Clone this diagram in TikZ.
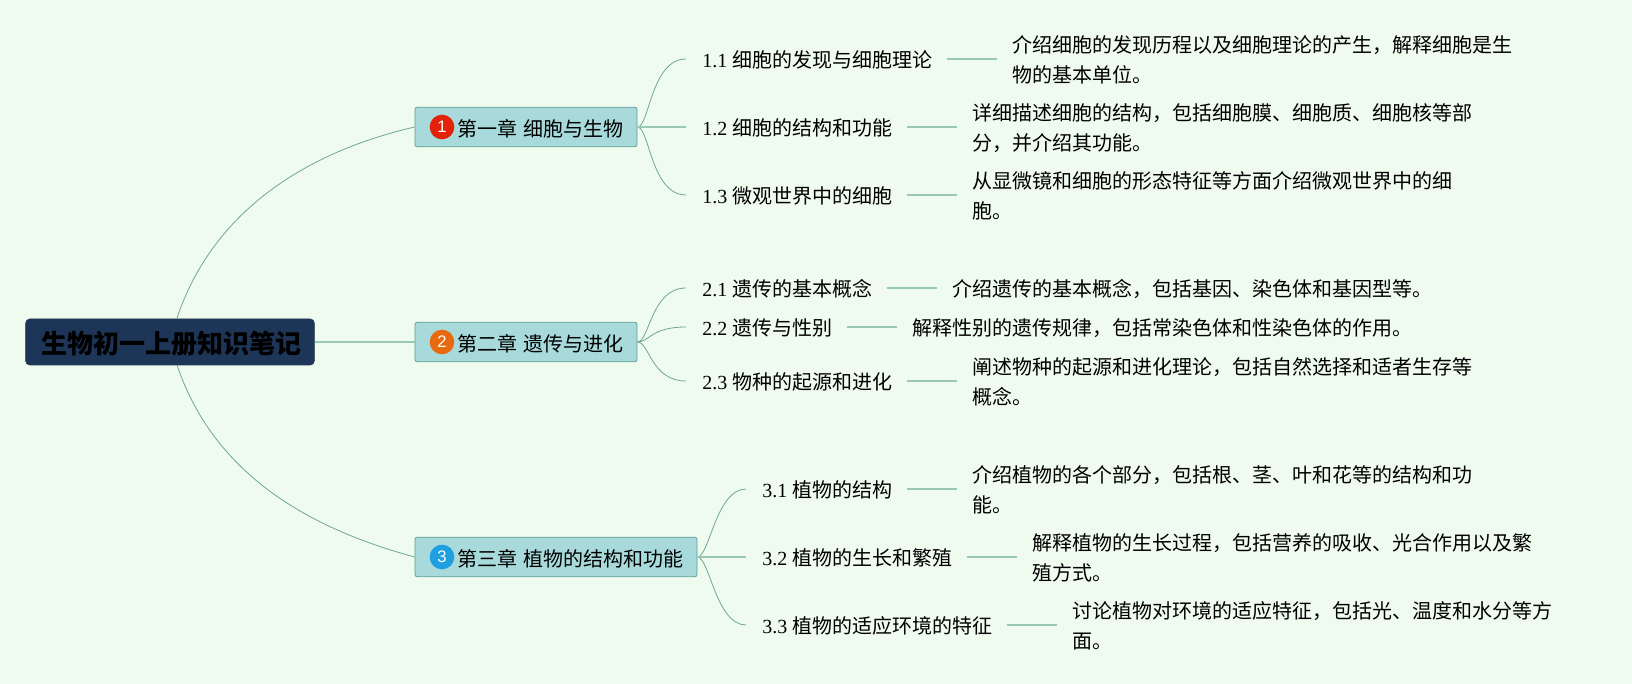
\documentclass[tikz,border=0pt]{standalone}
\usepackage{fontspec}
\usetikzlibrary{calc}
\setmainfont{Noto Sans CJK SC}
\newfontfamily\latinserif{Liberation Serif}
\newfontfamily\latinsans{Liberation Sans}
\definecolor{bgc}{HTML}{F0FBF0}
\definecolor{boxfill}{HTML}{A8DADC}
\definecolor{boxline}{HTML}{5B9E94}
\definecolor{rootfill}{HTML}{1D3557}
\definecolor{curvec}{HTML}{6FA596}
\definecolor{linec}{HTML}{99C9B5}
\definecolor{badgea}{HTML}{E2220A}
\definecolor{badgeb}{HTML}{E86A10}
\definecolor{badgec}{HTML}{1E9FE0}
\newcommand{\num}[1]{{\latinserif #1}\hspace{4.25pt}}
\tikzset{
  x=0.75pt,y=-0.75pt,
  rootbox/.style={draw=rootfill,fill=rootfill,rounded corners=3pt,minimum width=216.5pt,minimum height=34.5pt,inner sep=0pt,font=\fontsize{19.5}{24}\selectfont\bfseries,text=black},
  roottext/.style={inner sep=0pt,font=\fontsize{19.5}{24}\selectfont\bfseries,text=black},
  chapbox/.style={draw=boxline,fill=boxfill,rounded corners=1.5pt,line width=0.6pt,minimum height=29.5pt,inner sep=0pt},
  chaptext/.style={anchor=west,inner sep=0pt,font=\fontsize{15}{20}\selectfont,text=black},
  badge/.style={circle,minimum size=18.5pt,inner sep=0pt,text=white,font=\fontsize{12.5}{13}\selectfont\latinsans},
  subitem/.style={anchor=west,inner ysep=0pt,inner xsep=12pt,font=\fontsize{15}{20}\selectfont,text=black},
  descitem/.style={anchor=west,align=left,inner ysep=0pt,inner xsep=11.25pt,font=\fontsize{15}{22.5}\selectfont,text=black},
  curveline/.style={draw=curvec,line width=0.6pt},
  straightline/.style={draw=linec,line width=1pt},
}
\begin{document}
\begin{tikzpicture}
\useasboundingbox (0,0) rectangle (1632,684);
\fill[bgc] (0,0) rectangle (1632,684);

% root and chapters
\node[rootbox] (root) at (170,342) {};
\node[roottext] (roott) at (171.5,344) {生物初一上册知识笔记};
\node[chapbox,minimum width=166.5pt] (c1) at (526,127) {};
\node[chapbox,minimum width=166.5pt] (c2) at (526,342) {};
\node[chapbox,minimum width=211.5pt] (c3) at (556,557) {};
\node[badge,fill=badgea] (b1) at (442,127) {1};
\node[badge,fill=badgeb] (b2) at (442,342) {2};
\node[badge,fill=badgec] (b3) at (442,557) {3};
\node[chaptext] (t1) at (457,128.5) {第一章\hspace{4.5pt}细胞与生物};
\node[chaptext] (t2) at (457,343.5) {第二章\hspace{4.5pt}遗传与进化};
\node[chaptext] (t3) at (457,558.5) {第三章\hspace{4.5pt}植物的结构和功能};

% named anchors on the root outline
\coordinate (rt) at (177,318);
\coordinate (rb) at (177,365);

% subtopics
\node[subitem] (s11) at (686,60) {\num{1.1}细胞的发现与细胞理论};
\node[subitem] (s12) at (686,128) {\num{1.2}细胞的结构和功能};
\node[subitem] (s13) at (686,196) {\num{1.3}微观世界中的细胞};
\node[subitem] (s21) at (686,289) {\num{2.1}遗传的基本概念};
\node[subitem] (s22) at (686,328) {\num{2.2}遗传与性别};
\node[subitem] (s23) at (686,382) {\num{2.3}物种的起源和进化};
\node[subitem] (s31) at (746,490) {\num{3.1}植物的结构};
\node[subitem] (s32) at (746,558) {\num{3.2}植物的生长和繁殖};
\node[subitem] (s33) at (746,626) {\num{3.3}植物的适应环境的特征};

% descriptions
\node[descitem] (d11) at (997,60) {介绍细胞的发现历程以及细胞理论的产生，解释细胞是生\\物的基本单位。};
\node[descitem] (d12) at (957,128) {详细描述细胞的结构，包括细胞膜、细胞质、细胞核等部\\分，并介绍其功能。};
\node[descitem] (d13) at (957,196) {从显微镜和细胞的形态特征等方面介绍微观世界中的细\\胞。};
\node[descitem] (d21) at (937,289) {介绍遗传的基本概念，包括基因、染色体和基因型等。};
\node[descitem] (d22) at (897,328) {解释性别的遗传规律，包括常染色体和性染色体的作用。};
\node[descitem] (d23) at (957,382) {阐述物种的起源和进化理论，包括自然选择和适者生存等\\概念。};
\node[descitem] (d31) at (957,490) {介绍植物的各个部分，包括根、茎、叶和花等的结构和功\\能。};
\node[descitem] (d32) at (1017,558) {解释植物的生长过程，包括营养的吸收、光合作用以及繁\\殖方式。};
\node[descitem] (d33) at (1057,626) {讨论植物对环境的适应特征，包括光、温度和水分等方\\面。};

% root connectors
\draw[straightline] (root.east) -- (c2.west);
\draw[curveline] (rt) .. controls (215,205) and (315,150) .. (c1.west);
\draw[curveline] (rb) .. controls (215,478) and (315,530) .. (c3.west);

% chapter to subtopic
\foreach \c/\s in {c1/s11,c1/s13,c2/s21,c2/s22,c2/s23}{
  \draw[curveline] (\c.east) .. controls ($(\c.east)+(12,0)$) and ($(\s.west)+(-35,-1)$) .. ($(\s.west)+(0,-1)$);
}
\foreach \s in {s31,s33}{
  \draw[curveline] (c3.east) .. controls ($(c3.east)+(12,0)$) and ($(\s.west)+(-30,-1)$) .. ($(\s.west)+(0,-1)$);
}
\draw[straightline] (c1.east) -- (c1.east -| s12.west);
\draw[straightline] (c3.east) -- (c3.east -| s32.west);

% subtopic to description
\foreach \i in {11,12,13,21,22,23,31,32,33}{
  \draw[straightline,shorten <=-0.75pt] ($(s\i.east)+(-1.5,-1)$) -- ($(d\i.west)+(0,-1)$);
}
\end{tikzpicture}
\end{document}
